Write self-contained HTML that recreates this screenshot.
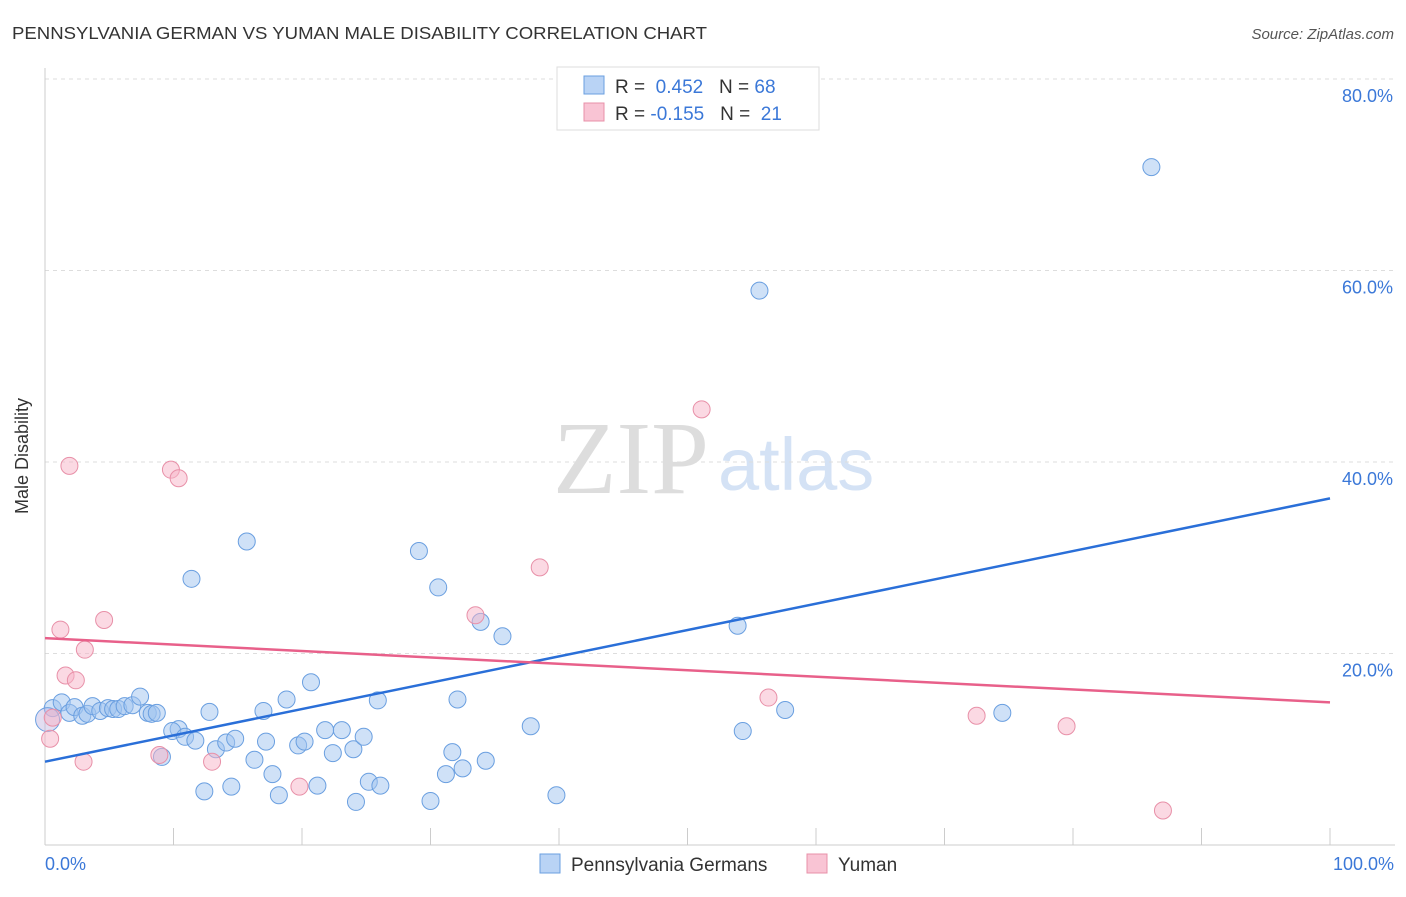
<!DOCTYPE html>
<html><head><meta charset="utf-8"><style>
body{margin:0;background:#fff;font-family:"Liberation Sans",sans-serif;}
</style></head><body>
<svg width="1406" height="892" xmlns="http://www.w3.org/2000/svg" style="font-family:'Liberation Sans',sans-serif">
<text x="12" y="39" font-size="17.5" fill="#333" textLength="695" lengthAdjust="spacingAndGlyphs">PENNSYLVANIA GERMAN VS YUMAN MALE DISABILITY CORRELATION CHART</text>
<text x="1394" y="39" font-size="15" fill="#555" font-style="italic" text-anchor="end">Source: ZipAtlas.com</text>
<text x="553" y="493" font-size="104" fill="#ddd" font-family="Liberation Serif,serif">ZIP</text>
<text x="718" y="490" font-size="74" fill="#d4e2f5">atlas</text>
<g id="grid"></g>
<line x1="45" y1="68" x2="45" y2="845" stroke="#ccc"/>
<line x1="45" y1="845" x2="1395" y2="845" stroke="#ccc"/>
<g id="ticks"></g>
<text x="28" y="456" font-size="18" fill="#333" text-anchor="middle" transform="rotate(-90 28 456)">Male Disability</text>
<text x="45" y="870" font-size="18" fill="#3b78d8">0.0%</text>
<text x="1394" y="870" font-size="18" fill="#3b78d8" text-anchor="end">100.0%</text>
<g id="pts"></g>
<g id="lines"></g>
<g>
<rect x="557" y="67" width="262" height="63" fill="#fff" stroke="#ddd"/>
<rect x="584" y="76" width="20" height="18" fill="#b9d3f5" stroke="#6a9fe0"/>
<rect x="584" y="103" width="20" height="18" fill="#f9c4d4" stroke="#e890a8"/>
<text x="615" y="93" font-size="19" fill="#333">R = <tspan fill="#3b78d8">&#160;0.452</tspan>&#160;&#160;&#160;N = <tspan fill="#3b78d8">68</tspan></text>
<text x="615" y="120" font-size="19" fill="#333">R = <tspan fill="#3b78d8">-0.155</tspan>&#160;&#160;&#160;N = <tspan fill="#3b78d8">&#160;21</tspan></text>
</g>
<g>
<rect x="540" y="854" width="20" height="19" fill="#b9d3f5" stroke="#6a9fe0"/>
<text x="571" y="871" font-size="19" fill="#333">Pennsylvania Germans</text>
<rect x="807" y="854" width="20" height="19" fill="#f9c4d4" stroke="#e890a8"/>
<text x="838" y="871" font-size="19" fill="#333">Yuman</text>
</g>
</svg>
<script>
const blueX=[0.6,1.3,1.9,2.3,2.9,3.3,3.7,4.3,4.9,5.3,5.7,6.2,6.8,7.4,8.0,8.3,8.7,10.4,9.9,10.9,11.7,13.3,14.1,14.8,12.8,12.4,14.5,16.3,17.2,17.0,17.7,18.2,18.8,19.7,20.2,20.7,21.2,21.8,22.4,23.1,24.0,24.2,24.8,25.2,26.1,25.9,30.0,31.2,31.7,32.5,34.3,32.1,33.9,35.6,37.8,39.8,30.6,29.1,15.7,11.4,9.1,53.9,54.3,57.6,74.5,55.6,86.1,0.2];
const blueY=[14.3,14.9,13.8,14.4,13.5,13.7,14.5,14.0,14.3,14.2,14.2,14.5,14.6,15.5,13.8,13.7,13.8,12.1,11.9,11.3,10.9,10.0,10.7,11.1,13.9,5.6,6.1,8.9,10.8,14.0,7.4,5.2,15.2,10.4,10.8,17.0,6.2,12.0,9.6,12.0,10.0,4.5,11.3,6.6,6.2,15.1,4.6,7.4,9.7,8.0,8.8,15.2,23.3,21.8,12.4,5.2,26.9,30.7,31.7,27.8,9.2,22.9,11.9,14.1,13.8,57.9,70.8,13.1];
const pinkX=[0.4,0.6,1.2,1.6,2.4,1.9,3.1,4.6,3.0,8.9,9.8,10.4,13.0,19.8,33.5,38.5,51.1,56.3,72.5,79.5,87.0];
const pinkY=[11.1,13.3,22.5,17.7,17.2,39.6,20.4,23.5,8.7,9.4,39.2,38.3,8.7,6.1,24.0,29.0,45.5,15.4,13.5,12.4,3.6];
const blueTrend=[8.7,36.2];
const pinkTrend=[21.6,14.9];
const yTicks=[20,40,60,80];
const xTicks=[0,10,20,30,40,50,60,70,80,90,100];
const NS="http://www.w3.org/2000/svg";
const sx=v=>45+v*12.85, sy=v=>845-v*9.575;
function mk(tag,attrs,parent){const e=document.createElementNS(NS,tag);for(const k in attrs)e.setAttribute(k,attrs[k]);document.getElementById(parent).appendChild(e);return e;}
yTicks.forEach(t=>{
 const l=mk('line',{x1:45,x2:1395,y1:sy(t),y2:sy(t),stroke:'#ddd','stroke-dasharray':'4 4'},'grid');
 
 
 const tx=mk('text',{x:1393,y:sy(t)+23,'font-size':18,fill:'#3b78d8','text-anchor':'end'},'grid');
 tx.textContent=t.toFixed(1)+'%';
 
 
});
xTicks.forEach(t=>{
 const l=mk('line',{x1:sx(t),x2:sx(t),y1:828,y2:845,stroke:'#ccc'},'ticks');
 
 
});
blueX.forEach((x,i)=>{
 const big=i===blueX.length-1;
 const c=mk('circle',{cx:sx(x),cy:sy(blueY[i]),r:big?12:8.5,fill:big?'rgba(190,180,225,0.45)':'rgba(160,196,240,0.5)',stroke:'#6a9fe0','stroke-width':1},'pts');
 
 
});
pinkX.forEach((x,i)=>{
 const c=mk('circle',{cx:sx(x),cy:sy(pinkY[i]),r:8.5,fill:'rgba(248,180,200,0.5)',stroke:'#e890a8','stroke-width':1},'pts');
 
 
});
const bl=mk('line',{x1:sx(0),y1:sy(blueTrend[0]),x2:sx(100),y2:sy(blueTrend[1]),stroke:'#2a6fd8','stroke-width':2.5},'lines');


const pl=mk('line',{x1:sx(0),y1:sy(pinkTrend[0]),x2:sx(100),y2:sy(pinkTrend[1]),stroke:'#e8608a','stroke-width':2.5},'lines');


</script>
</body></html>
